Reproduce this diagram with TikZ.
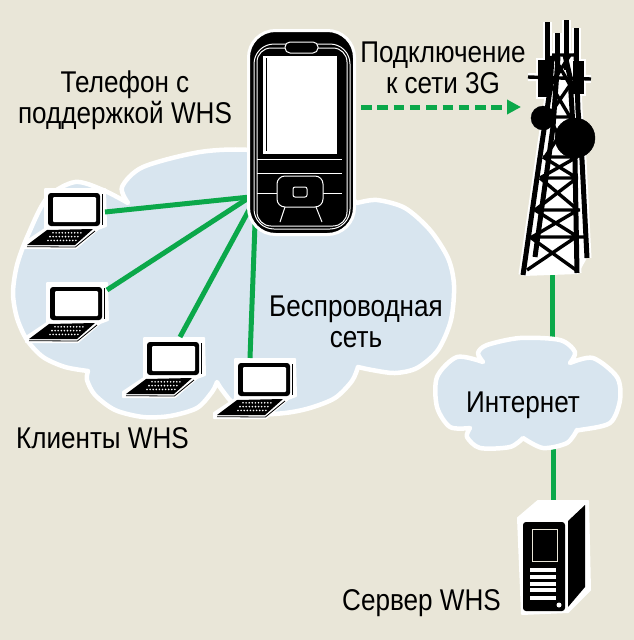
\documentclass[tikz,border=0pt]{standalone}
\usepackage{fontspec}
\setmainfont[FakeStretch=0.87]{Liberation Sans}
\usetikzlibrary{arrows.meta}
\definecolor{paper}{HTML}{E9E6D8}
\definecolor{sky}{HTML}{D8E5EF}
\definecolor{wire}{HTML}{0BA84A}
\tikzset{>={Triangle[length=14pt,width=14pt]},
    blob/.style={draw=white, fill=sky, line width=4.5pt, line join=round},
    wireline/.style={draw=wire, line width=5pt},
    caption/.style={align=center, inner sep=0pt, text=black, font=\fontsize{30}{31}\selectfont},
    whiteline/.style={draw=white, line width=1pt},
    laptop/.pic={
        \fill[white, draw=white, line width=2pt, line join=round] (-3,-4) -- (57,-4) -- (58,33) -- (50,36) -- (28,55) -- (-24,55) -- (-24,50) -- (-3,36) -- cycle;
        \fill[black, rounded corners=3pt] (0,0) rectangle (52,33);
        \fill[white, rounded corners=1pt] (5,4) rectangle (48,29);
        \fill[black] (53.5,1) rectangle (54.5,32);
        \fill[black] (-1,37) -- (45,36) -- (27,52) -- (-21,52) -- cycle;
        \draw[black, line width=0.8pt] (-21,53.7) -- (27.5,54) -- (47,38);
        \foreach \row/\shift in {0/5,1/2,2/0}
            \foreach \k in {0,...,9}
                \fill[white] ({\shift+\k*3.1},{39.8+\row*3.8}) circle (0.9);
    }}

\begin{document}
\begin{tikzpicture}[x=1pt,y=-1pt]
    \fill[paper] (0,0) rectangle (634,640);
    \useasboundingbox (0,0) rectangle (634,640);

    % clouds
    \draw[blob] plot[smooth] coordinates {(128,203) (122,187) (143,167) (200,152) (250,150) (300,160) (357,203)}
        -- plot[smooth] coordinates {(357,203) (377,200) (405,208) (430,230) (448,258) (454,285) (451,320) (438,350) (417,368) (395,373) (372,370) (358,367)}
        -- plot[smooth] coordinates {(358,367) (352,381) (335,398) (310,408) (285,413) (255,414) (235,405) (222,390) (217,382)}
        -- plot[smooth] coordinates {(217,382) (212,392) (197,408) (170,416) (143,417) (115,410) (95,395) (87,380) (88,371)}
        -- plot[smooth] coordinates {(88,371) (65,367) (43,357) (27,340) (17,318) (13,293) (17,265) (28,235) (47,198) (75,182) (103,190) (128,203)}
        -- cycle;
    \coordinate (towerfoot) at (552,270);
    \coordinate (inettop) at (552,345);
    \coordinate (inetbot) at (553,440);
    \coordinate (servertop) at (553,505);
    \draw[wireline] (towerfoot) -- (inettop);
    \draw[wireline] (inetbot) -- (servertop);
    \draw[blob] plot[smooth] coordinates {(483,362) (478,353) (487,345) (520,338) (560,340) (575,352) (570,363)}
        -- plot[smooth] coordinates {(570,363) (593,358) (617,377) (620,400) (610,423) (580,430) (577,430)}
        -- plot[smooth] coordinates {(577,430) (567,443) (543,448) (523,438)}
        -- plot[smooth] coordinates {(523,438) (510,447) (480,448) (467,437) (470,428)}
        -- plot[smooth] coordinates {(470,428) (450,427) (437,407) (437,377) (457,357) (483,362)}
        -- cycle;

    % clients
    \pic (lapa) at (48,193) {laptop};
    \pic (lapb) at (50,287) {laptop};
    \pic (lapc) at (147,342) {laptop};
    \pic (lapd) at (238,363) {laptop};
    \coordinate (porta) at (105,212);
    \coordinate (portb) at (107,290);
    \coordinate (portc) at (180,337);
    \coordinate (portd) at (250,358);
    \coordinate (huba) at (250,197);
    \coordinate (hubb) at (256,197);
    \draw[wireline] (porta) -- (huba);
    \draw[wireline] (portb) -- (huba);
    \draw[wireline] (portc) -- (hubb);
    \draw[wireline] (portd) -- (hubb);

    % phone
    \node[draw=white, fill=black, line width=3pt, rounded corners=27pt, minimum width=106pt, minimum height=204pt, inner sep=0pt] (phone) at (301.5,132.5) {};
    \draw[whiteline, rounded corners=20pt] (254,44) rectangle (350,229);
    \draw[whiteline, rounded corners=14pt] (257,48) rectangle (347,226);
    \fill[white] (263,56) rectangle (337,154);
    \draw[black, line width=1pt] (266,58) -- (266,151);
    \draw[whiteline, fill=black, rounded corners=5pt] (285,42) rectangle (318,53);
    \draw[whiteline] (257,159) -- (342,159);
    \draw[whiteline] (257,173) -- (342,173);
    \draw[whiteline] (257,193) -- (277,193);
    \draw[whiteline] (323,193) -- (342,193);
    \draw[whiteline] (285,207) -- (280,222);
    \draw[whiteline] (316,207) -- (322,222);
    \draw[whiteline, fill=black, rounded corners=8pt] (277,176) rectangle (323,207);
    \draw[whiteline, rounded corners=2pt] (293,187) rectangle (307,197);

    % tower
    \fill[white] (523,276) -- (552,56) -- (576,53) -- (587,258) -- (578,274) -- cycle;
    \foreach \ink/\thin/\thick in {white/8pt/9pt,black/3.4pt/5pt} {
        \draw[draw=\ink, fill=\ink] (543,118) circle (12) (575,138) circle (20);
        \draw[draw=\ink, fill=\ink, line width=\thin] (540,62) rectangle (549,95) (575,63) rectangle (582,92);
        \draw[\ink, line width=\thick] (547,22) -- (547,90) (557,33) -- (557,70) (566,20) -- (566,70) (576,28) -- (576,70);
        \draw[\ink, line width=\thick] (523,275) -- (542,143) -- (550,90) -- (552,56)
            (535,257) -- (553,127) -- (558,57)
            (577,273) -- (575,160) -- (570,77) -- (565,55)
            (587,258) -- (582,160) -- (578,110) -- (576,53);
        \draw[\ink, line width=\thin] (528,77) -- (591,79)
            (530,237) -- (584,237) (535,210) -- (580,210) (540,178) -- (578,178) (543,157) -- (576,157) (545,117) -- (572,117) (552,55) -- (577,55)
            (530,237) -- (576,270) (576,237) -- (527,270)
            (535,210) -- (578,237) (578,210) -- (532,237)
            (540,178) -- (578,210) (577,178) -- (535,210)
            (543,157) -- (577,178) (577,157) -- (540,178)
            (548,117) -- (572,157) (572,117) -- (545,157)
            (551,85) -- (570,117) (570,85) -- (548,117)
            (553,55) -- (570,85) (570,55) -- (551,85);
    }

    % server
    \fill[white, draw=white, line width=2pt, line join=round] (518,518) -- (538,501) -- (588,501) -- (590,590) -- (568,612) -- (522,614) -- cycle;
    \fill[black, rounded corners=3pt] (523,522) rectangle (565,611);
    \fill[black] (568,521) -- (585,505) -- (585,587) -- (568,607) -- cycle;
    \draw[draw=paper, line width=1pt] (532,529) rectangle (557,561);
    \foreach \y in {570,577,584,590,598}
        \fill[white] (530,\y-2) rectangle (556,\y+2);
    \fill[white] (559,605) circle (2.5);

    % link to the tower
    \coordinate (linkfrom) at (361,107);
    \coordinate (linkto) at (521,107);
    \draw[wire, line width=5pt, dash pattern=on 10.5pt off 5.8pt, ->] (linkfrom) -- (linkto);

    % captions
    \node[caption] (phonetext) at (125,100) {Телефон с\\поддержкой WHS};
    \node[caption] (linktext) at (443,68) {Подключение\\к сети 3G};
    \node[caption] (wlantext) at (356,322) {Беспроводная\\сеть};
    \node[caption] (inettext) at (523,405) {Интернет};
    \node[caption] (clienttext) at (102.5,438) {Клиенты WHS};
    \node[caption] (servertext) at (421.5,603) {Сервер WHS};
\end{tikzpicture}
\end{document}
